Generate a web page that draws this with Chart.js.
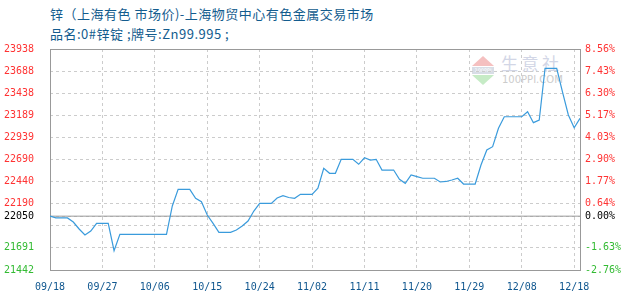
<!DOCTYPE html>
<html>
<head>
<meta charset="utf-8">
<script src="https://cdn.jsdelivr.net/npm/chart.js@4.4.1/dist/chart.umd.min.js"></script>
<style>
    body { margin: 0; background: #fff; }
    #wrap { position: relative; width: 630px; height: 300px; }
    #chart { position: absolute; left: 0; top: 0; z-index: 2; }
    .title { position: absolute; left: 50px; font-family: "Noto Sans CJK SC", sans-serif; font-size: 13px; letter-spacing: 0.5px; color: #135c8e; white-space: nowrap; line-height: 14px; }
    /* watermark */
    .wm { position: absolute; z-index: 1; }
    .tri-up { left: 472px; top: 56px; width: 0; height: 0; border-left: 11px solid transparent; border-right: 11px solid transparent; border-bottom: 10px solid #f5c0c0; }
    .tri-band { left: 472px; top: 67px; width: 22px; height: 7px; background: #d8dde6; font: 5px "DejaVu Sans", sans-serif; color: #fff; text-align: center; line-height: 7px; }
    .tri-down { left: 472px; top: 75px; width: 0; height: 0; border-left: 11px solid transparent; border-right: 11px solid transparent; border-top: 10px solid #c6ebc6; }
    .wm-cn { left: 501px; top: 52px; font: 17px "Noto Sans CJK SC", sans-serif; line-height: 22px; letter-spacing: 3.5px; color: #d2d6e6; }
    .wm-en { left: 502px; top: 74px; font: 10px "DejaVu Sans", sans-serif; line-height: 12px; color: #cccccc; }
</style>
</head>
<body>
<div id="wrap">
    <div class="title" style="top:7px">锌（上海有色 市场价)-上海物贸中心有色金属交易市场</div>
    <div class="title" style="top:27px">品名:0#锌锭 ;牌号:Zn99.995 ;</div>
    <div class="wm tri-up"></div>
    <div class="wm tri-band">100PPI</div>
    <div class="wm tri-down"></div>
    <div class="wm wm-cn">生意社</div>
    <div class="wm wm-en">100PPI.COM</div>
    <canvas id="chart" width="630" height="300"></canvas>
</div>
<script>
// Harga referensi (0.00%)
const basePrice = 22050;

// Hari ke-0 = 09/18 ... hari ke-91 = 12/18
const xTickDays = [0, 9, 18, 27, 36, 45, 54, 63, 72, 81, 90];
const xTickLabels = ['09/18', '09/27', '10/06', '10/15', '10/24', '11/02', '11/11', '11/20', '11/29', '12/08', '12/18'];

const yTicks = [21442, 21691.6, 21941.2, 22050, 22190.8, 22440.4, 22690, 22939.6, 23189.2, 23438.8, 23688.4, 23938];
const hiddenTick = 21941.2;

// Harga harian
const prices = [
    22050, 22030, 22030, 22030, 21984, 21905, 21837, 21882, 21969, 21969,
    21969, 21660, 21845, 21845, 21845, 21845, 21845, 21845, 21845, 21845,
    21845, 22165, 22353, 22353, 22353, 22252, 22213, 22063, 21969, 21868,
    21868, 21868, 21894, 21939, 21995, 22108, 22195, 22195, 22195, 22255,
    22281, 22261, 22252, 22297, 22297, 22297, 22365, 22591, 22534, 22534,
    22692, 22692, 22692, 22636, 22710, 22684, 22692, 22571, 22571, 22571,
    22466, 22421, 22515, 22496, 22478, 22478, 22478, 22436, 22442, 22458,
    22478, 22413, 22413, 22413, 22628, 22797, 22835, 23042, 23173, 23173,
    23173, 23173, 23230, 23106, 23136, 23720, 23720, 23720, 23452, 23193,
    23049, 23155
];

const red = '#ff3333';
const green = '#33bb33';
const tickFont = { family: 'DejaVu Sans Mono', size: 10 };

function tickColor(ctx) {
    const v = ctx.tick.value;
    if (v === basePrice) return '#000000';
    return v > basePrice ? red : green;
}

// Kotak area chart
const boxPlugin = {
    id: 'box',
    beforeDatasetsDraw(chart) {
        const a = chart.chartArea;
        const ctx = chart.ctx;
        ctx.save();
        ctx.setLineDash([]);
        ctx.strokeStyle = '#999999';
        ctx.lineWidth = 1;
        ctx.strokeRect(Math.round(a.left) + 0.5, Math.round(a.top) + 0.5, Math.round(a.right - a.left), Math.round(a.bottom - a.top));
        ctx.restore();
    }
};

new Chart(document.getElementById('chart'), {
    type: 'line',
    data: {
        datasets: [{
            data: prices.map((v, i) => ({ x: i, y: v })),
            borderColor: '#3a9bdc',
            borderWidth: 1.2,
            pointRadius: 0,
            tension: 0,
            order: 1
        }, {
            data: [{ x: 0, y: basePrice }, { x: prices.length - 1, y: basePrice }],
            borderColor: '#999999',
            borderWidth: 1,
            pointRadius: 0,
            order: 2
        }]
    },
    options: {
        responsive: false,
        animation: false,
        devicePixelRatio: 1,
        layout: { padding: { top: 49, left: 0, right: 0, bottom: 0 } },
        plugins: { legend: { display: false }, tooltip: { enabled: false } },
        scales: {
            x: {
                type: 'linear',
                min: 0,
                max: prices.length - 1,
                afterBuildTicks: s => { s.ticks = xTickDays.map(v => ({ value: v })); },
                afterFit: s => { s.height = 30; },
                grid: { color: '#cccccc', drawTicks: false },
                border: { display: false, dash: [3, 3] },
                ticks: {
                    color: '#10578f',
                    font: tickFont,
                    padding: 11,
                    maxRotation: 0,
                    autoSkip: false,
                    callback: (value, index) => xTickLabels[index]
                }
            },
            y: {
                position: 'left',
                min: yTicks[0],
                max: yTicks[yTicks.length - 1],
                afterBuildTicks: s => { s.ticks = yTicks.map(v => ({ value: v })); },
                afterFit: s => { s.width = 50; },
                grid: { color: '#cccccc', drawTicks: false },
                border: { display: false, dash: [3, 3] },
                ticks: {
                    color: tickColor,
                    font: tickFont,
                    padding: 16,
                    autoSkip: false,
                    callback: v => v === hiddenTick ? '' : String(Math.floor(v))
                }
            },
            y1: {
                position: 'right',
                min: yTicks[0],
                max: yTicks[yTicks.length - 1],
                afterBuildTicks: s => { s.ticks = yTicks.map(v => ({ value: v })); },
                afterFit: s => { s.width = 50; },
                grid: { display: false, drawTicks: false },
                border: { display: false },
                ticks: {
                    color: tickColor,
                    font: tickFont,
                    padding: 5,
                    autoSkip: false,
                    callback: v => v === hiddenTick ? '' : ((v - basePrice) / basePrice * 100).toFixed(2) + '%'
                }
            }
        }
    },
    plugins: [boxPlugin]
});
</script>
</body>
</html>
